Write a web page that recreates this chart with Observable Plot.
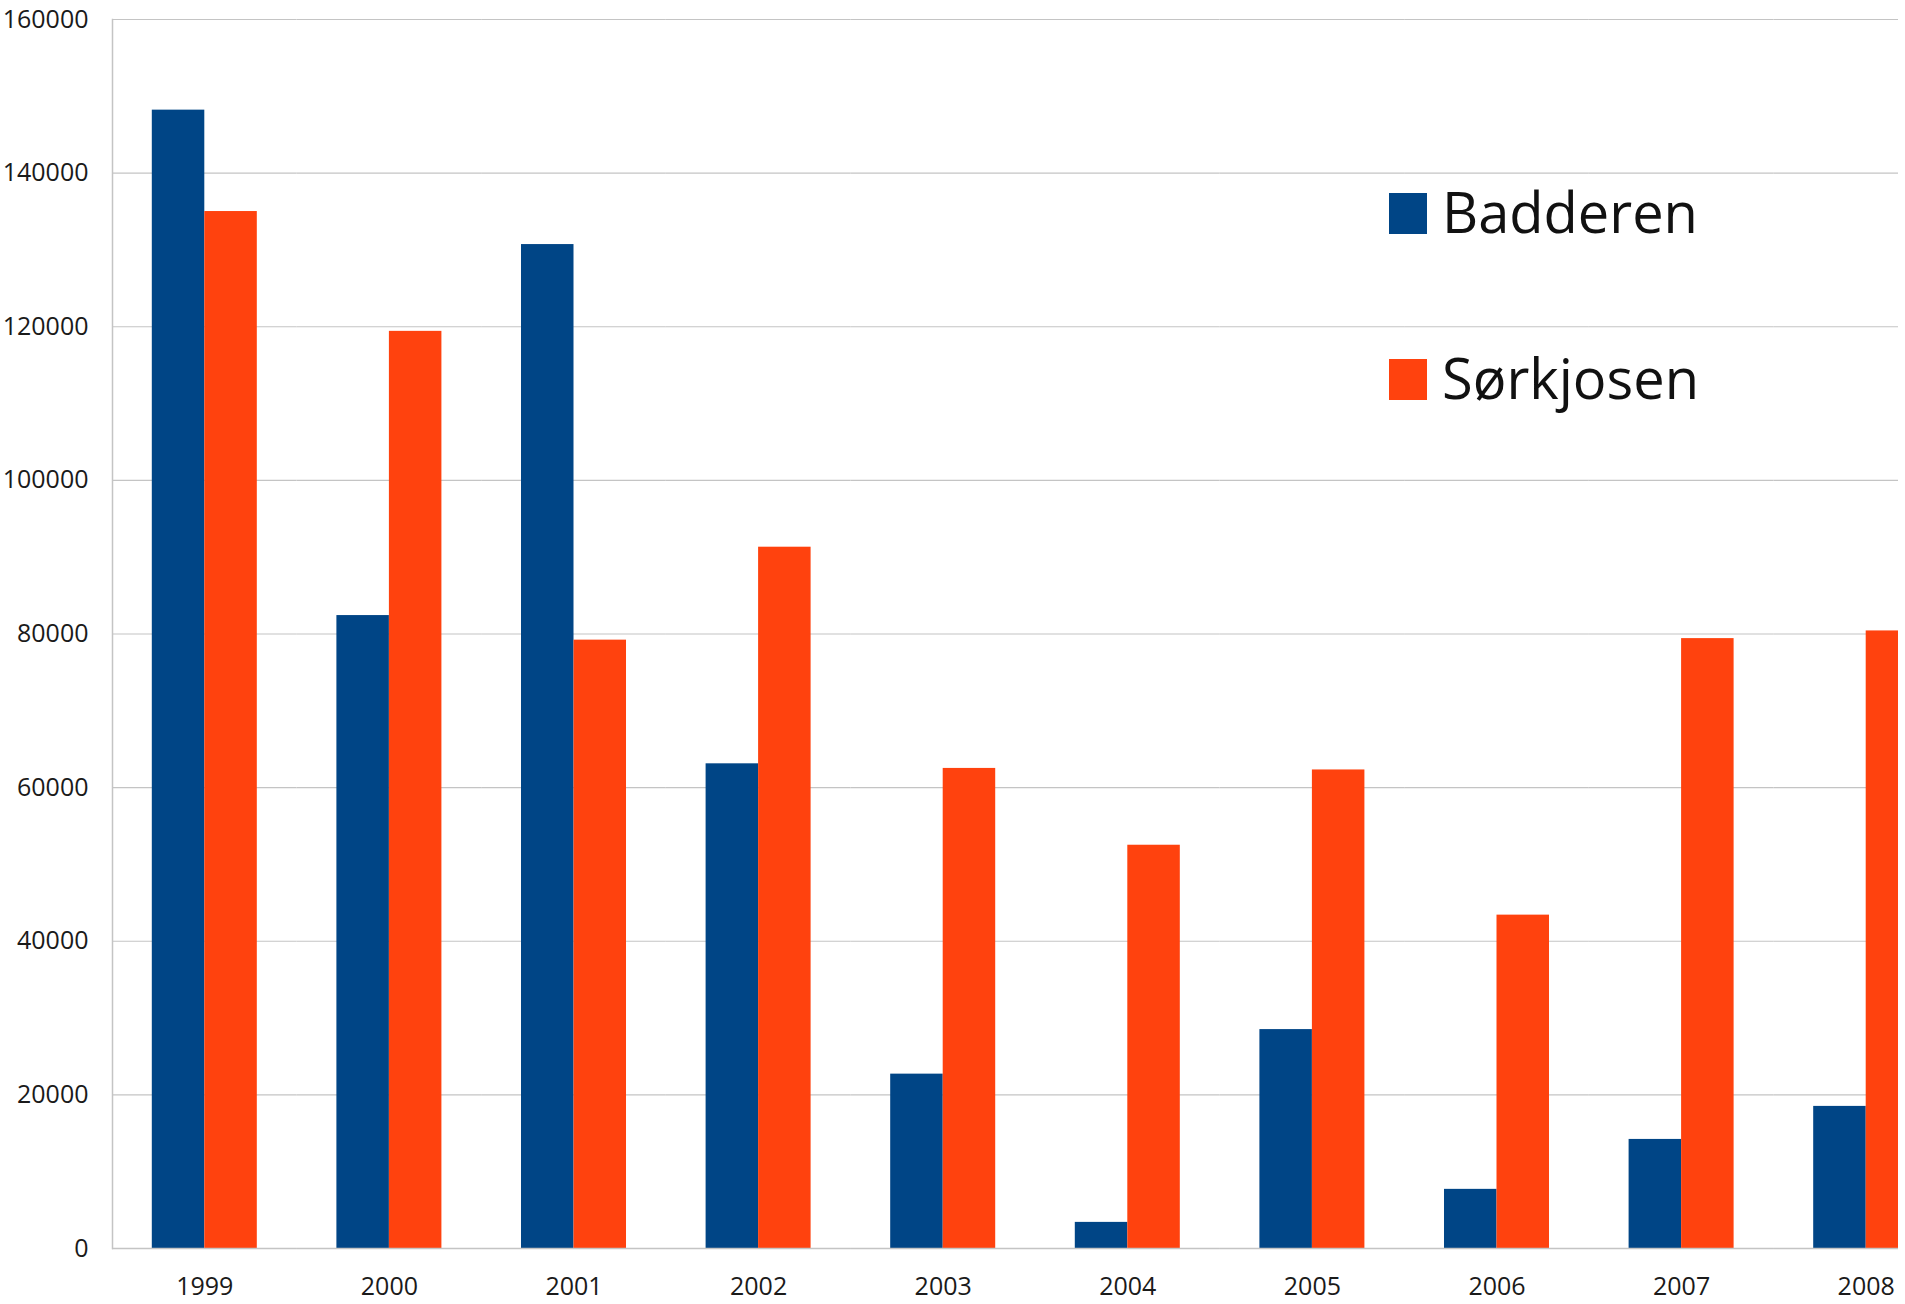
<!DOCTYPE html>
<html>
<head>
<meta charset="utf-8">
<script src="https://cdn.jsdelivr.net/npm/d3@7"></script>
<script src="https://cdn.jsdelivr.net/npm/@observablehq/plot@0.6"></script>
<style>
  html, body { margin: 0; padding: 0; background: white; }
  #chart { position: relative; width: 1898px; height: 1304px; overflow: hidden; }
  #chart svg { max-width: none !important; display: block; }
  .sw { position: absolute; width: 38px; height: 41px; }
  .lt { position: absolute; font-family: "Open Sans", sans-serif; font-size: 56px; line-height: 56px; color: #111; white-space: nowrap; }
</style>
</head>
<body>
<div id="chart"></div>
<script>
const years = ["1999", "2000", "2001", "2002", "2003", "2004", "2005", "2006", "2007", "2008"];
const seriesNames = ["Badderen", "Sørkjosen"];
const badderen = [148200, 82400, 130700, 63100, 22700, 3400, 28500, 7700, 14200, 18500];
const sorkjosen = [135000, 119400, 79200, 91300, 62500, 52500, 62300, 43400, 79400, 80400];
const colors = ["#004586", "#ff420e"];
const yTicks = [0, 20000, 40000, 60000, 80000, 100000, 120000, 140000, 160000];

const data = years.flatMap((yr, i) => [
  {year: yr, series: seriesNames[0], value: badderen[i]},
  {year: yr, series: seriesNames[1], value: sorkjosen[i]}
]);

const gridColor = "#c4c4c4";

const chart = Plot.plot({
  width: 2003,
  height: 1304,
  marginTop: 19,
  marginBottom: 56,
  marginLeft: 112,
  marginRight: 45,
  style: {fontFamily: "'Open Sans', sans-serif", fontSize: "25px", color: "#1a1a1a", background: "white"},
  fx: {domain: years, paddingInner: 0, paddingOuter: 0, round: false, label: null, axis: "bottom", tickSize: 0, tickPadding: 29},
  x: {domain: seriesNames, paddingInner: 0, paddingOuter: 0.758, round: false, axis: null, label: null},
  y: {domain: [0, 160000], ticks: yTicks, tickFormat: d => String(d), tickSize: 0, tickPadding: 24, label: null},
  color: {domain: seriesNames, range: colors},
  marks: [
    Plot.gridY(yTicks, {stroke: gridColor, strokeOpacity: 1, strokeWidth: 1.2}),
    Plot.barY(data, {fx: "year", x: "series", y: "value", fill: "series"}),
    Plot.ruleY([0], {stroke: gridColor, strokeWidth: 1.5}),
    Plot.frame({anchor: "left", facetAnchor: "left", stroke: gridColor, strokeWidth: 1.5})
  ]
});

const host = document.getElementById("chart");
host.appendChild(chart);

// legend overlay
const legTops = [193, 359];
seriesNames.forEach((name, i) => {
  const sw = document.createElement("div");
  sw.className = "sw";
  sw.style.left = "1389px";
  sw.style.top = legTops[i] + "px";
  sw.style.background = colors[i];
  host.appendChild(sw);
  const t = document.createElement("div");
  t.className = "lt";
  t.style.left = "1442px";
  t.style.top = (legTops[i] - 10) + "px";
  t.textContent = name;
  host.appendChild(t);
});
</script>
</body>
</html>
